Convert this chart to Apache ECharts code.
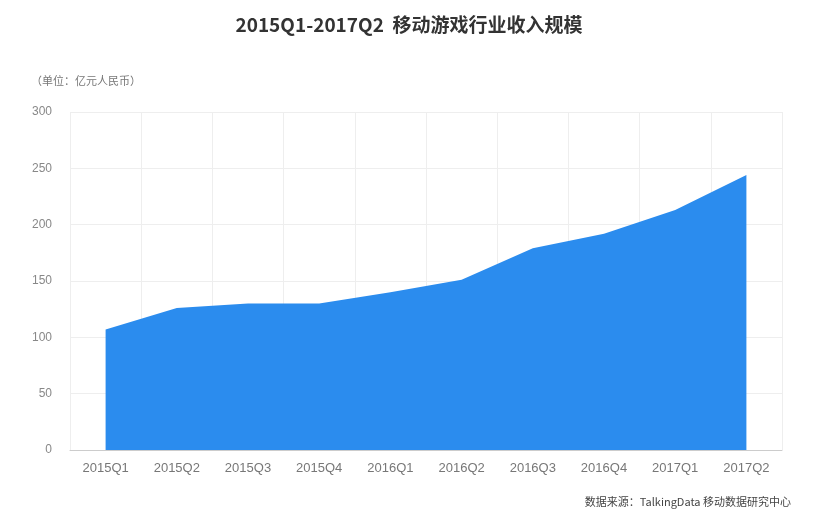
<!DOCTYPE html>
<html>
<head>
<meta charset="utf-8">
<script src="https://cdn.jsdelivr.net/npm/echarts@6/dist/echarts.min.js"></script>
<style>html,body{margin:0;padding:0;background:#fff}#chartmain{width:818px;height:518px}</style>
</head>
<body>
<div id="chartmain"></div>
<script>
var quarters = ['2015Q1', '2015Q2', '2015Q3', '2015Q4', '2016Q1', '2016Q2', '2016Q3', '2016Q4', '2017Q1', '2017Q2'];
var revenue = [107, 126, 130, 130, 140, 151, 179, 192, 213, 244];
var yTicks = { min: 0, max: 300, interval: 50 };

var option = {
	backgroundColor : '#fff',
	title : [ {
		text : '2015Q1-2017Q2  移动游戏行业收入规模',
		left : 'center',
		top : 10,
		textStyle : { fontSize : 19, fontWeight : 'bold', color : '#333', fontFamily : 'Noto Sans CJK SC' }
	}, {
		text : '（单位：亿元人民币）',
		left : 26,
		top : 70,
		textStyle : { fontSize : 11, fontWeight : 'normal', color : '#777', fontFamily : 'Noto Sans CJK SC' }
	}, {
		text : '数据来源：TalkingData 移动数据研究中心',
		right : 22,
		top : 491,
		textStyle : { fontSize : 11, fontWeight : 'normal', color : '#444', fontFamily : 'Noto Sans CJK SC' }
	} ],
	grid : { left : 70, right : 36, top : 112, bottom : 68 },
	xAxis : {
		type : 'category',
		data : quarters,
		boundaryGap : true,
		axisLine : { lineStyle : { color : '#ccc' } },
		axisTick : { show : false },
		splitLine : { show : true, lineStyle : { color : '#eee' } },
		axisLabel : { color : '#777', fontSize : 13, margin : 12 }
	},
	yAxis : {
		type : 'value',
		min : yTicks.min,
		max : yTicks.max,
		interval : yTicks.interval,
		axisLine : { show : false },
		axisTick : { show : false },
		splitLine : { lineStyle : { color : '#eee' } },
		axisLabel : { color : '#888', fontSize : 12, margin : 18 }
	},
	series : [ {
		type : 'line',
		data : revenue,
		symbol : 'none',
		lineStyle : { width : 0 },
		areaStyle : { color : '#2b8cee', opacity : 1 },
		label : { show : true, position : 'top', distance : 14, color : '#555', fontSize : 17 }
	} ]
};

// 初始化echarts实例
var myChart = echarts.init(document.getElementById('chartmain'));
myChart.setOption(option);
</script>
</body>
</html>
